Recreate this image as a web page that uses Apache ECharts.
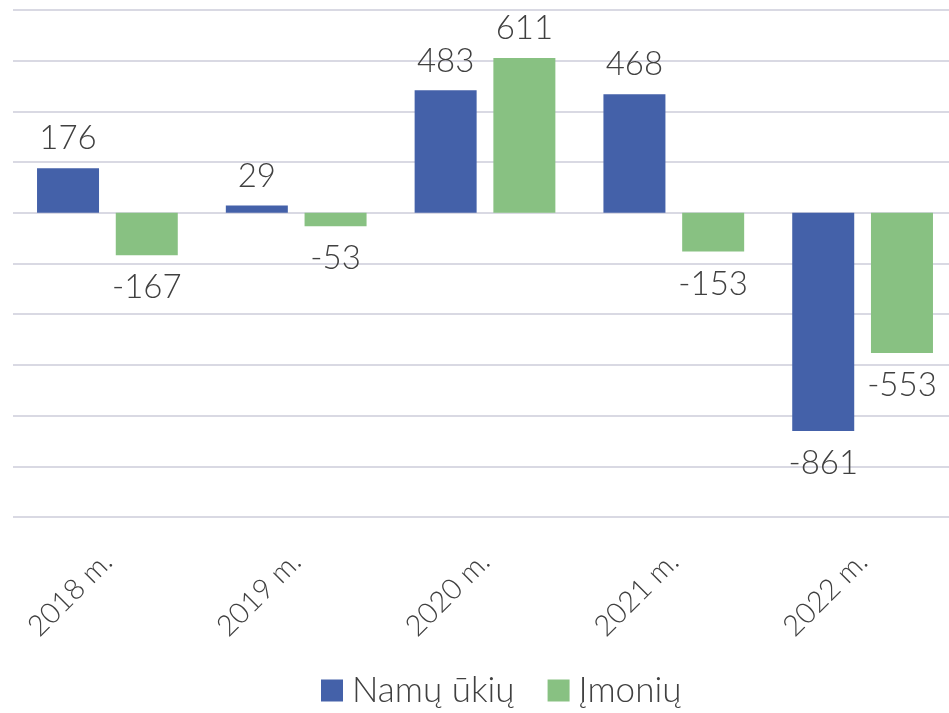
<!DOCTYPE html>
<html><head><meta charset="utf-8">
<script src="https://cdn.jsdelivr.net/npm/echarts@6/dist/echarts.min.js"></script>
<style>html,body{margin:0;padding:0;background:#fff}#c{width:949px;height:713px}</style>
</head><body><div id="c"></div>
<script>
const categories = ['2018 m.', '2019 m.', '2020 m.', '2021 m.', '2022 m.'];
const namuUkiu = [176, 29, 483, 468, -861];
const imoniu = [-167, -53, 611, -153, -553];
const seriesNames = ['Namų ūkių', 'Įmonių'];
const yTicks = { min: -1200, max: 800, interval: 200 };

const FONT = 'Lato, "Open Sans", sans-serif';
function withLabels(arr) {
  return arr.map(v => ({ value: v, label: v < 0 ? { position: 'bottom', distance: 16 } : { position: 'top', distance: 13 } }));
}
const labelStyle = { show: true, fontFamily: FONT, fontWeight: 300, fontSize: 33, color: '#404040' };

const chart = echarts.init(document.getElementById('c'));
chart.setOption({
  animation: false,
  grid: { left: 13, width: 944, top: 10, bottom: 196, containLabel: false, outerBoundsMode: 'none' },
  legend: {
    bottom: 0, left: 316, itemWidth: 22, itemHeight: 22, itemGap: 33,
    icon: 'rect',
    textStyle: { fontFamily: FONT, fontWeight: 300, fontSize: 35, color: '#404040', padding: [0, 0, 0, 4] },
    data: seriesNames
  },
  xAxis: {
    type: 'category', data: categories,
    axisLine: { show: false }, axisTick: { show: false },
    axisLabel: { rotate: 45, margin: 40, fontFamily: FONT, fontWeight: 300, fontSize: 29, color: '#404040' }
  },
  yAxis: {
    type: 'value', min: yTicks.min, max: yTicks.max, interval: yTicks.interval,
    axisLabel: { show: false }, axisLine: { show: false }, axisTick: { show: false },
    splitLine: { lineStyle: { color: '#D9D9E3', width: 2 } }
  },
  series: [
    { name: seriesNames[0], type: 'bar', data: withLabels(namuUkiu), barWidth: 62, barGap: '27%',
      itemStyle: { color: '#4461A9' }, label: labelStyle },
    { name: seriesNames[1], type: 'bar', data: withLabels(imoniu), barWidth: 62, barGap: '27%',
      itemStyle: { color: '#88C182' }, label: labelStyle }
  ]
});
</script></body></html>
